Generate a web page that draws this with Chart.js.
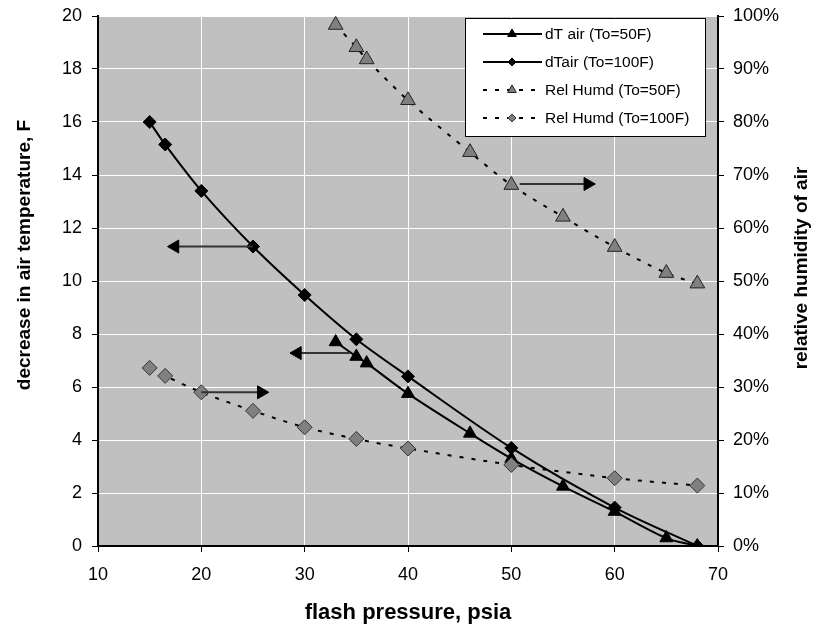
<!DOCTYPE html>
<html>
<head>
<meta charset="utf-8">
<script src="https://cdn.jsdelivr.net/npm/chart.js@4/dist/chart.umd.min.js"></script>
<style>
  body { margin: 0; background: #fff; }
  canvas { display: block; }
</style>
</head>
<body>
<canvas id="flashChart" width="814" height="628"></canvas>
<script>
// flash pressure (psia) for each series
const pressure50 = [33, 35, 36, 40, 46, 50, 55, 60, 65, 68];
const pressure100 = [15, 16.5, 20, 25, 30, 35, 40, 50, 60, 68];

// decrease in air temperature, F
const dTair50 = [7.7, 7.15, 6.9, 5.75, 4.25, 3.3, 2.25, 1.3, 0.3, 0];
const dTair100 = [16.0, 15.15, 13.4, 11.3, 9.47, 7.8, 6.4, 3.7, 1.45, 0];

// relative humidity of air, %
const relHumd50 = [98.3, 94.1, 91.8, 84.1, 74.3, 68.1, 62.1, 56.4, 51.5, 49.5];
const relHumd100 = [33.6, 32.1, 29.0, 25.5, 22.4, 20.2, 18.4, 15.3, 12.8, 11.4];

// arrows telling which axis a curve belongs to
const arrowFrom = [25, 34.4, 20, 50.8];
const arrowTo = [17.45, 29.3, 25.8, 57.4];
const arrowLevel = [11.3, 7.28, 29, 68.3];
const arrowAxis = ['y', 'y', 'y1', 'y1'];

const seriesNames = ['dT air (To=50F)', 'dTair (To=100F)', 'Rel Humd (To=50F)', 'Rel Humd (To=100F)'];

const FONT = "'Liberation Sans', Arial, sans-serif";
const dash = [4, 8];

function pts(xs, ys) {
    return xs.map((x, i) => ({ x: x, y: ys[i] }));
}

const datasets = [
    {
        label: seriesNames[0], data: pts(pressure50, dTair50), yAxisID: 'y',
        borderColor: '#000', borderWidth: 2, tension: 0.3,
        pointStyle: 'triangle', pointRadius: 7.5, pointBackgroundColor: '#000',
        pointBorderColor: '#000', pointBorderWidth: 1, order: 3
    },
    {
        label: seriesNames[1], data: pts(pressure100, dTair100), yAxisID: 'y',
        borderColor: '#000', borderWidth: 2, tension: 0.3,
        pointStyle: 'rectRot', pointRadius: 6.5, pointBackgroundColor: '#000',
        pointBorderColor: '#000', pointBorderWidth: 1, order: 2
    },
    {
        label: seriesNames[2], data: pts(pressure50, relHumd50), yAxisID: 'y1',
        borderColor: '#000', borderWidth: 2, borderDash: dash, tension: 0.3,
        pointStyle: 'triangle', pointRadius: 8.5, pointBackgroundColor: '#808080',
        pointBorderColor: '#222', pointBorderWidth: 1, order: 1
    },
    {
        label: seriesNames[3], data: pts(pressure100, relHumd100), yAxisID: 'y1',
        borderColor: '#000', borderWidth: 2, borderDash: dash, tension: 0.3,
        pointStyle: 'rectRot', pointRadius: 7.5, pointBackgroundColor: '#808080',
        pointBorderColor: '#333', pointBorderWidth: 1, order: 0
    }
];

arrowFrom.forEach((x0, i) => {
    const x1 = arrowTo[i];
    datasets.push({
        label: 'arrow' + i,
        data: [{ x: x0, y: arrowLevel[i] }, { x: x1, y: arrowLevel[i] }],
        yAxisID: arrowAxis[i],
        borderColor: '#333', borderWidth: 2, tension: 0,
        pointStyle: 'triangle', pointRadius: [0, 7.5],
        pointRotation: x1 < x0 ? -90 : 90,
        pointBackgroundColor: '#000', pointBorderColor: '#000', pointBorderWidth: 1,
        order: -1
    });
});

// grey plot area like the Excel original
const plotBackground = {
    id: 'plotBackground',
    beforeDraw(chart) {
        const { ctx, chartArea: a } = chart;
        ctx.save();
        ctx.fillStyle = '#c0c0c0';
        ctx.fillRect(a.left, a.top, a.right - a.left, a.bottom - a.top);
        ctx.restore();
    }
};

function marker(ctx, style, x, y, r, fill, stroke) {
    ctx.beginPath();
    if (style === 'triangle') {
        ctx.moveTo(x, y - r);
        ctx.lineTo(x + r * 0.866, y + r / 2);
        ctx.lineTo(x - r * 0.866, y + r / 2);
    } else {
        ctx.moveTo(x, y - r);
        ctx.lineTo(x + r, y);
        ctx.lineTo(x, y + r);
        ctx.lineTo(x - r, y);
    }
    ctx.closePath();
    ctx.fillStyle = fill;
    ctx.fill();
    ctx.lineWidth = 1;
    ctx.strokeStyle = stroke;
    ctx.stroke();
}

// boxed legend and both vertical titles (right one reads bottom-up)
const extras = {
    id: 'extras',
    afterDraw(chart) {
        const ctx = chart.ctx;
        ctx.save();
        ctx.fillStyle = '#fff';
        ctx.fillRect(465, 18, 240, 118);
        ctx.strokeStyle = '#000';
        ctx.lineWidth = 1;
        ctx.strokeRect(465.5, 18.5, 240, 118);

        const rows = [34, 62, 90, 118];
        for (let i = 0; i < 4; i++) {
            const ds = datasets[i];
            const y = rows[i];
            ctx.strokeStyle = '#000';
            ctx.lineWidth = 2;
            ctx.setLineDash(ds.borderDash || []);
            ctx.beginPath();
            ctx.moveTo(483, y);
            ctx.lineTo(542, y);
            ctx.stroke();
            ctx.setLineDash([]);
            const r = ds.pointStyle === 'triangle' ? 5 : 4;
            marker(ctx, ds.pointStyle, 512, y, r, ds.pointBackgroundColor, ds.pointBorderColor);
            ctx.fillStyle = '#000';
            ctx.font = '15.5px ' + FONT;
            ctx.textAlign = 'left';
            ctx.textBaseline = 'middle';
            ctx.fillText(seriesNames[i], 545, y + 1);
        }

        ctx.font = 'bold 19px ' + FONT;
        ctx.fillStyle = '#000';
        ctx.textAlign = 'center';
        ctx.textBaseline = 'middle';
        ctx.translate(25, 255);
        ctx.rotate(-Math.PI / 2);
        ctx.fillText('decrease in air temperature, F', 0, 0);
        ctx.setTransform(1, 0, 0, 1, 0, 0);
        ctx.translate(802, 268);
        ctx.rotate(-Math.PI / 2);
        ctx.fillText('relative humidity of air', 0, 0);
        ctx.restore();
    }
};

new Chart(document.getElementById('flashChart'), {
    type: 'line',
    data: { datasets: datasets },
    options: {
        responsive: false,
        animation: false,
        layout: { padding: { top: 16 } },
        plugins: { legend: { display: false }, tooltip: { enabled: false } },
        scales: {
            x: {
                type: 'linear', min: 10, max: 70,
                ticks: { stepSize: 10, color: '#000', padding: 12, font: { family: FONT, size: 18 } },
                grid: { color: '#fff', lineWidth: 1, tickColor: '#000', tickLength: 6 },
                border: { color: '#000', width: 2 },
                title: {
                    display: true, text: 'flash pressure, psia', color: '#000',
                    font: { family: FONT, size: 22, weight: 'bold' },
                    padding: { top: 2, bottom: 2 }
                },
                afterFit(scale) { scale.height = 82; }
            },
            y: {
                min: 0, max: 20,
                ticks: { stepSize: 2, color: '#000', padding: 10, font: { family: FONT, size: 18 } },
                grid: { color: '#fff', lineWidth: 1, tickColor: '#000', tickLength: 6 },
                border: { color: '#000', width: 2 },
                afterFit(scale) {
                    scale.width = 98;
                    scale.paddingTop = 0;
                    scale.paddingBottom = 0;
                }
            },
            y1: {
                position: 'right', min: 0, max: 100,
                ticks: {
                    stepSize: 10, color: '#000', padding: 9, font: { family: FONT, size: 18 },
                    callback: v => v + '%'
                },
                grid: { drawOnChartArea: false, tickColor: '#000', tickLength: 6 },
                border: { color: '#000', width: 2 },
                afterFit(scale) {
                    scale.width = 96;
                    scale.paddingTop = 0;
                    scale.paddingBottom = 0;
                }
            }
        }
    },
    plugins: [plotBackground, extras]
});
</script>
</body>
</html>
